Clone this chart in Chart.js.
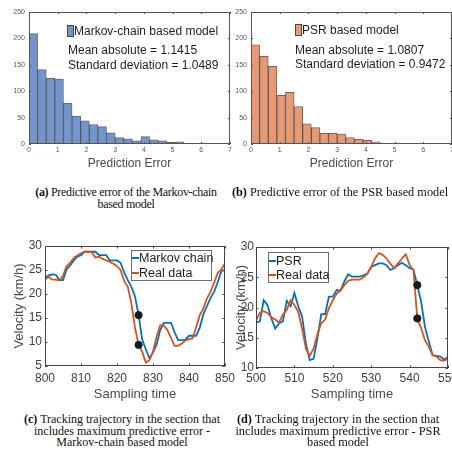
<!DOCTYPE html>
<html><head><meta charset="utf-8">
<script src="https://cdn.jsdelivr.net/npm/chart.js@4.4.1/dist/chart.umd.min.js"></script>
<style>
html,body{margin:0;padding:0;background:#fff;}
body{width:452px;height:467px;overflow:hidden;position:relative;font-family:'Liberation Sans',Arial,sans-serif;}
canvas{position:absolute;}
.t{position:absolute;white-space:nowrap;color:#1e1e1e;font-size:12px;line-height:12px;}
.cap{position:absolute;font-family:'Liberation Serif','Times New Roman',serif;font-size:12px;line-height:12px;text-align:center;color:#111;white-space:nowrap;transform:translateX(-50%);}
.cap b{font-weight:bold;}
.leg{position:absolute;border:1px solid #6b6b6b;background:#fff;box-sizing:border-box;}
.sw{position:absolute;height:2px;}
.ic{position:absolute;box-sizing:border-box;border:1px solid rgba(40,40,40,0.75);}
</style></head><body>
<canvas id="cA" width="240" height="175" style="left:0;top:0"></canvas>
<canvas id="cB" width="240" height="175" style="left:222px;top:0"></canvas>
<canvas id="cC" width="240" height="170" style="left:0;top:232px"></canvas>
<canvas id="cD" width="250" height="170" style="left:211px;top:232px"></canvas>

<div class="ic" style="left:67px;top:25px;width:7px;height:12px;background:#7295ce"></div>
<div class="t" style="left:74px;top:25px">Markov-chain based model</div>
<div class="t" style="left:68px;top:44px">Mean absolute = 1.1415</div>
<div class="t" style="left:68px;top:58.5px">Standard deviation = 1.0489</div>

<div class="ic" style="left:295px;top:24px;width:7px;height:12px;background:#e89872"></div>
<div class="t" style="left:302px;top:23.5px">PSR based model</div>
<div class="t" style="left:295px;top:43.5px">Mean absolute = 1.0807</div>
<div class="t" style="left:295px;top:58px">Standard deviation = 0.9472</div>

<div class="leg" style="left:131px;top:250px;width:81px;height:31px"></div>
<div class="sw" style="left:132px;top:257px;width:7px;background:#0072bd"></div>
<div class="t" style="left:139px;top:252px;font-size:12.5px;line-height:12px">Markov chain</div>
<div class="sw" style="left:132px;top:272px;width:7px;background:#d95319"></div>
<div class="t" style="left:139px;top:267px;font-size:12.5px;line-height:12px">Real data</div>

<div class="leg" style="left:268px;top:252px;width:61px;height:31px"></div>
<div class="sw" style="left:269px;top:260px;width:7px;background:#0072bd"></div>
<div class="t" style="left:276px;top:255px;font-size:12.5px;line-height:12px">PSR</div>
<div class="sw" style="left:269px;top:274px;width:7px;background:#d95319"></div>
<div class="t" style="left:276px;top:269px;font-size:12.5px;line-height:12px">Real data</div>

<div class="cap" style="left:126px;top:186px;letter-spacing:-0.3px"><b>(a)</b> Predictive error of the Markov-chain<br>based model</div>
<div class="cap" style="left:340px;top:186px;font-size:12.3px"><b>(b)</b> Predictive error of the PSR based model</div>
<div class="cap" style="left:122px;top:414px;line-height:11.7px"><b>(c)</b> Tracking trajectory in the section that<br>includes maximum predictive error -<br>Markov-chain based model</div>
<div class="cap" style="left:338px;top:414px;line-height:11.7px;font-size:12.3px"><b>(d)</b> Tracking trajectory in the section that<br>includes maximum predictive error - PSR<br>based model</div>

<script>
// ---------- data ----------
const markovBins = [0.15,0.45,0.75,1.05,1.35,1.65,1.95,2.25,2.55,2.85,3.15,3.45,3.75,4.05,4.35,4.65,4.95,5.25,5.55];
const markovCounts = [209,141,125,123,77,53,44,37,33,21,12,10,6,14,8,6,3,4,1];
const psrBins = [0.15,0.45,0.75,1.05,1.35,1.65,1.95,2.25,2.55,2.85,3.15,3.45,3.75,4.05,4.35,4.65,4.95,5.25,5.55,5.85,6.15];
const psrCounts = [188,166,147,92,98,71,38,31,20,20,19,12,9,7,4,0,0,0,1,0,1];
const histTicksX = [0,1,2,3,4,5,6,7];
const histTicksY = [0,50,100,150,200,250];

const timeC = [800,801,802,803,804,805,806,807,808,809,810,811,812,813,814,815,816,817,818,819,820,821,822,823,824,825,826,827,828,829,830,831,832,833,834,835,836,837,838,839,840,841,842,843,844,845,846,847,848,849,850];
const markovPred = [23.3,23.9,24.1,24.0,22.9,22.9,25.1,26.0,27.0,27.8,28.1,28.8,28.8,28.8,28.8,28.1,28.1,28.1,27.0,27.0,27.0,26.5,24.5,22.9,21.5,19.5,15.6,10.5,8.5,6.6,7.8,9.5,12.5,14.0,14.0,14.0,12.0,10.4,10.4,10.5,11.3,11.3,11.3,13.0,15.8,17.5,19.2,20.5,22.5,24.8,25.0];
const realC = [23.0,23.6,23.0,23.0,22.8,23.8,25.8,26.5,27.5,28.0,28.5,28.8,28.8,28.7,27.6,27.8,27.3,27.0,26.7,26.3,25.8,25.0,22.7,21.5,18.0,13.0,9.4,8.0,5.7,6.2,8.0,11.1,13.5,13.4,12.5,10.8,9.2,9.2,9.7,10.3,10.6,10.8,13.1,15.6,17.0,19.1,20.5,22.4,24.4,25.1,26.4];
const dotTimeC = 826;
const dotValsC = [15.6, 9.4];

const timeD = [500,501,502,503,504,505,506,507,508,509,510,511,512,513,514,515,516,517,518,519,520,521,522,523,524,525,526,527,528,529,530,531,532,533,534,535,536,537,538,539,540,541,542,543,544,545,546,547,548,549,550];
const psrPred = [17.5,17.7,21.2,20.4,18.2,16.5,17.4,17.7,21.1,20.2,22.4,20.2,18.5,14.0,11.3,11.5,14.9,18.9,18.9,21.8,21.8,22.9,22.8,24.3,25.5,25.1,25.1,25.1,25.3,25.6,26.7,27.0,27.3,27.3,27.0,26.2,26.5,27.0,27.4,27.0,26.5,26.3,23.7,21.0,16.8,14.4,12.1,12.0,11.9,11.4,11.8];
const realD = [17.9,19.1,19.4,19.1,18.4,18.0,17.5,18.8,19.6,21.2,20.4,19.3,16.5,13.2,12.0,13.2,15.6,17.4,18.0,19.9,21.2,22.3,22.8,23.7,24.4,24.6,24.6,24.6,25.0,25.6,26.7,28.1,29.0,28.7,28.1,27.2,26.5,27.3,28.1,28.8,27.0,26.2,18.2,16.6,14.6,13.5,12.1,11.9,11.3,11.2,11.6];
const dotTimeD = 542;
const dotValsD = [23.7, 18.2];

// ---------- styling ----------
Chart.defaults.font.family = "'Liberation Sans', Arial, sans-serif";
const BLUE = '#0072bd', ORANGE = '#d95319';
const AX = '#4a4a4a';

const boxPlugin = {
  id: 'matlabBox',
  afterDatasetsDraw(chart, args, opts) {
    const {ctx, chartArea: a, scales} = chart;
    ctx.save();
    ctx.strokeStyle = opts.color || '#555';
    ctx.lineWidth = 1;
    const L = opts.tick || 2;
    ctx.beginPath();
    scales.x.ticks.forEach(t => {
      const px = Math.round(scales.x.getPixelForValue(t.value)) + 0.5;
      ctx.moveTo(px, a.bottom); ctx.lineTo(px, a.bottom - L);
      ctx.moveTo(px, a.top); ctx.lineTo(px, a.top + L);
    });
    scales.y.ticks.forEach(t => {
      const py = Math.round(scales.y.getPixelForValue(t.value)) + 0.5;
      ctx.moveTo(a.left, py); ctx.lineTo(a.left + L, py);
      ctx.moveTo(a.right, py); ctx.lineTo(a.right - L, py);
    });
    ctx.stroke();
    ctx.strokeRect(Math.round(a.left) + 0.5, Math.round(a.top) + 0.5, Math.round(a.right - a.left) - 1, Math.round(a.bottom - a.top) - 1);
    ctx.restore();
  }
};

function histChart(id, bins, counts, fill) {
  new Chart(document.getElementById(id), {
    type: 'bar',
    data: { datasets: [{
      data: bins.map((b, i) => ({x: b, y: counts[i]})),
      backgroundColor: fill,
      borderColor: 'rgba(40,40,40,0.7)',
      borderWidth: 1,
      borderSkipped: false,
      barPercentage: 1,
      categoryPercentage: 1
    }]},
    options: {
      responsive: false, animation: false, events: [],
      layout: { padding: {left: 0, right: 10, top: 12, bottom: 0} },
      plugins: { legend: {display: false}, tooltip: {enabled: false},
                 matlabBox: {color: '#555', tick: 2} },
      scales: {
        x: { type: 'linear', min: 0, max: 7, offset: false,
             grid: {display: false, drawTicks: false}, border: {display: false},
             afterBuildTicks: s => { s.ticks = histTicksX.map(v => ({value: v})); },
             ticks: { font: {size: 7}, color: '#555', padding: 2, maxRotation: 0, autoSkip: false },
             title: { display: true, text: 'Prediction Error', font: {size: 12}, color: AX, padding: {top: 0, bottom: 4} },
             afterFit: s => { s.height = 31; } },
        y: { min: 0, max: 250,
             grid: {display: false, drawTicks: false}, border: {display: false},
             afterBuildTicks: s => { s.ticks = histTicksY.map(v => ({value: v})); },
             ticks: { font: {size: 7}, color: '#555', padding: 4 },
             afterFit: s => { s.width = 29; } }
      }
    },
    plugins: [boxPlugin]
  });
}
histChart('cA', markovBins, markovCounts, '#7295ce');
histChart('cB', psrBins, psrCounts, '#e89872');

function lineChart(id, times, pred, real, dotT, dotV, cfg) {
  new Chart(document.getElementById(id), {
    type: 'line',
    data: { datasets: [
      { data: dotV.map(v => ({x: dotT, y: v})), showLine: false, pointRadius: 3.6,
        pointBackgroundColor: '#1a1a1a', pointBorderColor: '#1a1a1a', order: 0 },
      { data: times.map((t, i) => ({x: t, y: pred[i]})), borderColor: BLUE, borderWidth: 1.8,
        pointRadius: 0, tension: 0, order: 2 },
      { data: times.map((t, i) => ({x: t, y: real[i]})), borderColor: ORANGE, borderWidth: 1.8,
        pointRadius: 0, tension: 0, order: 1 }
    ]},
    options: {
      responsive: false, animation: false, events: [],
      layout: { padding: {left: 0, right: cfg.padRight, top: cfg.padTop, bottom: 0} },
      plugins: { legend: {display: false}, tooltip: {enabled: false},
                 matlabBox: {color: '#444', tick: 2.5} },
      scales: {
        x: { type: 'linear', min: cfg.xMin, max: cfg.xMax,
             grid: {display: false, drawTicks: false}, border: {display: false},
             ticks: { stepSize: 10, font: {size: 12}, color: '#404040', padding: cfg.xPad, maxRotation: 0, autoSkip: false },
             title: { display: true, text: 'Sampling time', font: {size: 13}, color: AX, padding: {top: 0, bottom: 0} },
             afterFit: s => { s.height = cfg.xH; } },
        y: { min: cfg.yMin, max: 30,
             grid: {display: false, drawTicks: false}, border: {display: false},
             ticks: { stepSize: 5, font: {size: 12}, color: '#404040', padding: cfg.yPad },
             title: { display: true, text: 'Velocity (km/h)', font: {size: 13}, color: AX, padding: {top: cfg.yTitlePad, bottom: 0} },
             afterFit: s => { s.width = 45; } }
      }
    },
    plugins: [boxPlugin]
  });
}
lineChart('cC', timeC, markovPred, realC, dotTimeC, dotValsC,
  {xMin: 800, xMax: 850, yMin: 5, padRight: 14, padTop: 14, xH: 36, xPad: 5, yPad: 3, yTitlePad: 12});
lineChart('cD', timeD, psrPred, realD, dotTimeD, dotValsD,
  {xMin: 500, xMax: 550, yMin: 10, padRight: 13, padTop: 15, xH: 34, xPad: 3, yPad: 2, yTitlePad: 23});
</script>
</body></html>
